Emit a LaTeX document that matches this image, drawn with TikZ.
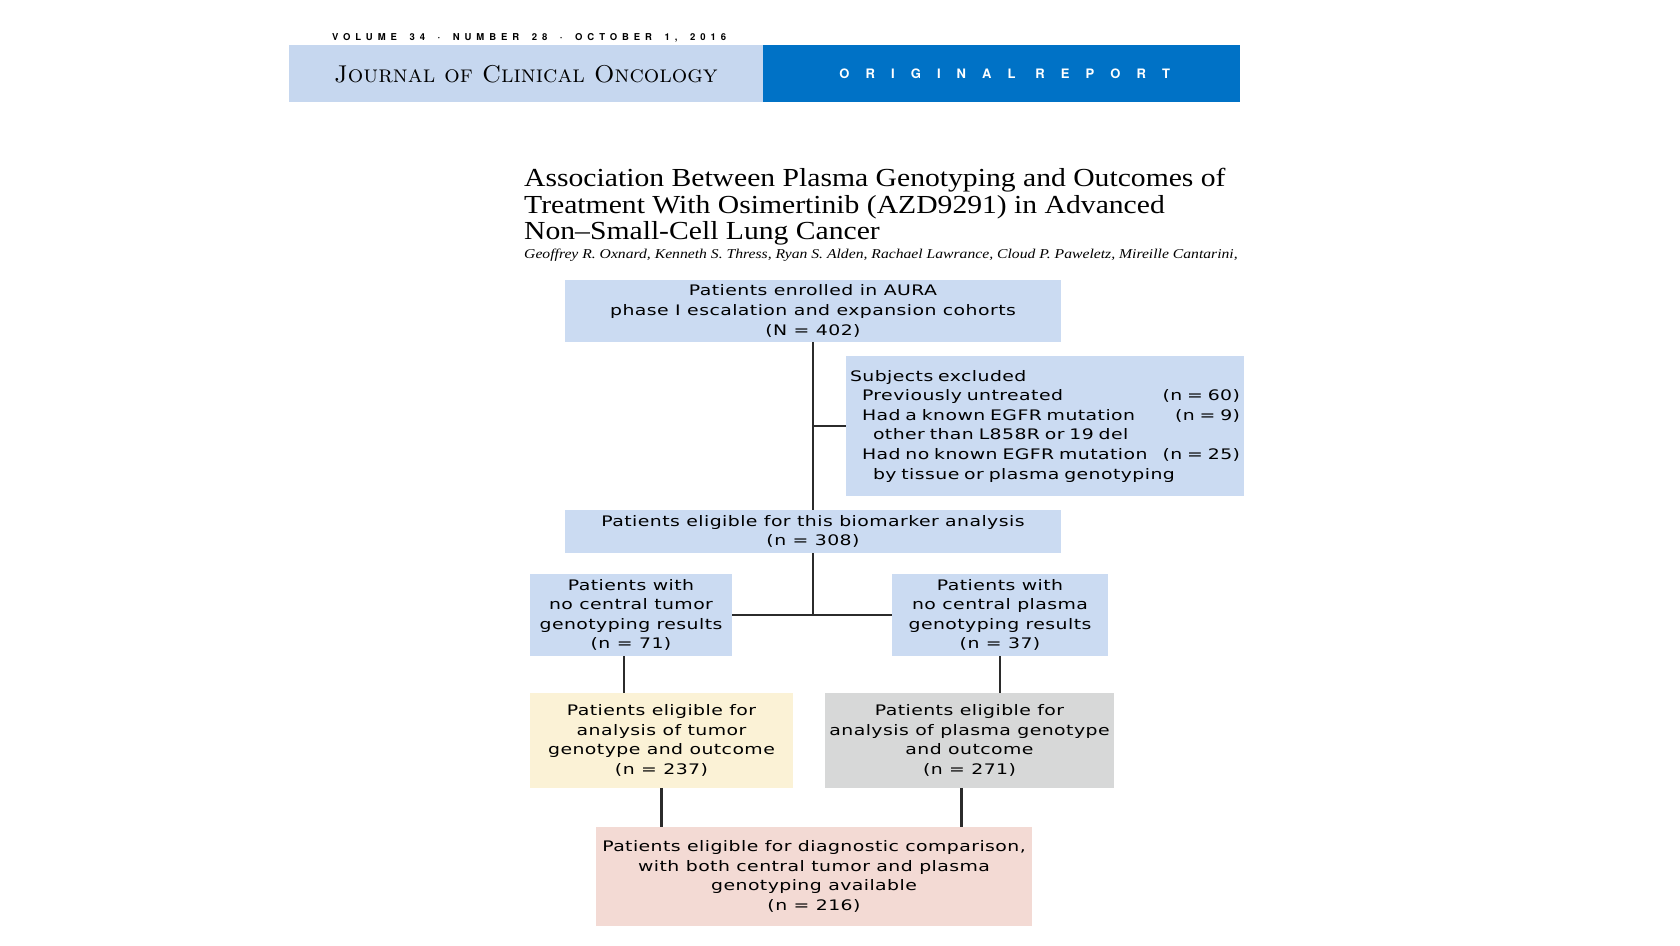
\documentclass[tikz,border=0pt]{standalone}
\usepackage{fontspec}
\setsansfont{TeX Gyre Heros}
\newfontfamily\titlefont{Liberation Serif}[FakeStretch=1.14]
\newfontfamily\authorfont{Liberation Serif}[FakeStretch=1.16]
\newfontfamily\boxfont{DejaVu Sans}[FakeStretch=1.3, LetterSpace=3]
\usetikzlibrary{positioning}

\definecolor{bandlight}{HTML}{C6D7EF}
\definecolor{banddark}{HTML}{0072C6}
\definecolor{boxblue}{HTML}{CBDBF2}
\definecolor{boxyellow}{HTML}{FBF2D6}
\definecolor{boxgrey}{HTML}{D7D8D8}
\definecolor{boxpink}{HTML}{F3DAD4}
\definecolor{linegrey}{HTML}{2B2B2B}
\newcommand{\wsp}{\ \hspace{5pt}}

\begin{document}
\begin{tikzpicture}[x=1pt, y=-1pt,
    box/.style={fill=boxblue, inner sep=0pt, align=center,
                font=\boxfont\fontsize{14.5}{19.6}\selectfont},
    link/.style={draw=linegrey, line width=2.2pt}]
  \useasboundingbox (0,0) rectangle (1680,945);

  % journal header
  \node[anchor=west, inner sep=0pt,
        font=\sffamily\bfseries\fontsize{9.5}{11}\selectfont\addfontfeature{LetterSpace=52}]
    (issue) at (332,37.5) {VOLUME\wsp 34\wsp ·\wsp NUMBER\wsp 28\wsp ·\wsp OCTOBER\wsp 1,\wsp 2016};
  \node[fill=bandlight, anchor=north west, minimum width=474, minimum height=57,
        inner sep=0pt] (jband) at (289,45) {};
  \node[fill=banddark, anchor=north west, minimum width=477, minimum height=57,
        inner sep=0pt] (rband) at (763,45) {};
  \node[anchor=west, inner sep=0pt,
        font=\fontsize{24.3}{26}\selectfont\addfontfeature{FakeBold=1.2}]
    (jname) at ([xshift=45]jband.west) {\textsc{Journal of Clinical Oncology}};
  \node[inner sep=0pt, text=white,
        font=\sffamily\bfseries\fontsize{13}{15}\selectfont\addfontfeature{LetterSpace=124}]
    (report) at ([xshift=3]rband.center) {ORIGINAL REPORT};

  % title and authors
  \node[anchor=north west, inner sep=0pt, align=left,
        font=\titlefont\fontsize{26}{26.5}\selectfont]
    (title) at (524,168) {Association Between Plasma Genotyping and Outcomes of\\
      Treatment With Osimertinib (AZD9291) in Advanced\\
      Non–Small-Cell Lung Cancer};
  \node[anchor=west, inner sep=0pt, font=\authorfont\itshape\fontsize{13.5}{15}\selectfont]
    (authors) at (524,255) {Geoffrey R. Oxnard, Kenneth S. Thress, Ryan S. Alden,
      Rachael Lawrance, Cloud P. Paweletz, Mireille Cantarini,};

  % flow boxes
  \node[box, minimum width=496, minimum height=62] (enrol) at (813,311)
    {Patients enrolled in AURA\\phase I escalation and expansion cohorts\\(N = 402)};
  \node[box, minimum width=398, minimum height=140, text width=390, align=left,
        inner xsep=4] (excl) at (1045,426)
    {Subjects excluded\\
     \hspace*{12pt}Previously untreated\hfill(n = 60)\\
     \hspace*{12pt}Had a known EGFR mutation\hfill(n = 9)\\
     \hspace*{23pt}other than L858R or 19 del\\
     \hspace*{12pt}Had no known EGFR mutation\hfill(n = 25)\\
     \hspace*{23pt}by tissue or plasma genotyping};
  \node[box, minimum width=496, minimum height=43] (elig) at (813,531.5)
    {Patients eligible for this biomarker analysis\\(n = 308)};
  \node[box, minimum width=202, minimum height=82] (notumor) at (631,615)
    {Patients with\\no central tumor\\genotyping results\\(n = 71)};
  \node[box, minimum width=216, minimum height=82] (noplasma) at (1000,615)
    {Patients with\\no central plasma\\genotyping results\\(n = 37)};
  \node[box, fill=boxyellow, minimum width=263, minimum height=95] (tumor) at (661.5,740.5)
    {Patients eligible for\\analysis of tumor\\genotype and outcome\\(n = 237)};
  \node[box, fill=boxgrey, minimum width=289, minimum height=95] (plasma) at (969.5,740.5)
    {Patients eligible for\\analysis of plasma genotype\\and outcome\\(n = 271)};
  \node[box, fill=boxpink, minimum width=436, minimum height=99] (both) at (814,876.5)
    {Patients eligible for diagnostic comparison,\\with both central tumor and plasma\\
     genotyping available\\(n = 216)};

  % connectors
  \draw[link] (enrol.south) -- (elig.north);
  \draw[link] (enrol.south |- excl.west) -- (excl.west);
  \draw[link] (elig.south) -- (elig.south |- notumor.east);
  \draw[link] (notumor.east) -- (noplasma.west);
  \draw[link] ([xshift=-7]notumor.south) -- ([xshift=-7]notumor.south |- tumor.north);
  \draw[link] (noplasma.south) -- (noplasma.south |- plasma.north);
  \draw[link] (tumor.south) -- (tumor.south |- both.north);
  \draw[link] ([xshift=-8]plasma.south) -- ([xshift=-8]plasma.south |- both.north);
\end{tikzpicture}
\end{document}
